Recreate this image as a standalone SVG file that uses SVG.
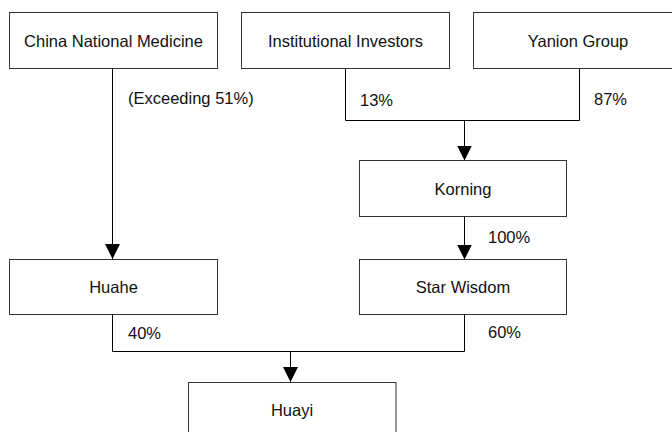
<svg xmlns="http://www.w3.org/2000/svg" width="672" height="432" viewBox="0 0 672 432">
<style>
.box{fill:#fff;stroke:#333;stroke-width:1}
.t{font-family:"Liberation Sans",Arial,sans-serif;font-size:16.5px;fill:#111;text-anchor:middle}
.l{font-family:"Liberation Sans",Arial,sans-serif;font-size:16.5px;fill:#111}
.c{fill:none;stroke:#000;stroke-width:1}
</style>
<defs>
<marker id="ah" markerUnits="userSpaceOnUse" markerWidth="16" markerHeight="16" viewBox="0 0 16 16" refX="15" refY="8" orient="auto">
<path d="M0,0.5 L15,8 L0,15.5 Z" fill="#000"/>
</marker>
</defs>
<rect width="672" height="432" fill="#fff"/>
<g id="connectors">
<path class="c" d="M112.5,68.5 V259" marker-end="url(#ah)"/>
<path class="c" d="M345.5,68.5 V120.5 H579.5 V68.5"/>
<path class="c" d="M464.5,120.5 V160.5" marker-end="url(#ah)"/>
<path class="c" d="M464.5,216.5 V259.5" marker-end="url(#ah)"/>
<path class="c" d="M112.5,314.5 V351.5 H464.5 V314.5"/>
<path class="c" d="M290.5,351.5 V382" marker-end="url(#ah)"/>
</g>
<g id="labels">
<text class="l" x="128" y="104">(Exceeding 51%)</text>
<text class="l" x="360" y="106">13%</text>
<text class="l" x="594" y="105">87%</text>
<text class="l" x="488" y="243">100%</text>
<text class="l" x="128" y="339">40%</text>
<text class="l" x="488" y="338">60%</text>
</g>
<g id="cnm"><rect class="box" x="9.5" y="12.5" width="208" height="56"/><text class="t" x="113.5" y="46.5">China National Medicine</text></g>
<g id="inst"><rect class="box" x="241.5" y="12.5" width="208" height="56"/><text class="t" x="345.5" y="46.5">Institutional Investors</text></g>
<g id="yanion"><rect class="box" x="473.5" y="12.5" width="208" height="56"/><text class="t" x="578" y="46.5">Yanion Group</text></g>
<g id="korning"><rect class="box" x="359.5" y="160.5" width="207" height="56"/><text class="t" x="463" y="194.5">Korning</text></g>
<g id="starwisdom"><rect class="box" x="359.5" y="259.5" width="207" height="55"/><text class="t" x="463" y="293">Star Wisdom</text></g>
<g id="huahe"><rect class="box" x="9.5" y="259.5" width="208" height="55"/><text class="t" x="113.5" y="293">Huahe</text></g>
<g id="huayi"><rect class="box" x="188.5" y="382.5" width="207.5" height="56"/><text class="t" x="292" y="416">Huayi</text></g>
</svg>
